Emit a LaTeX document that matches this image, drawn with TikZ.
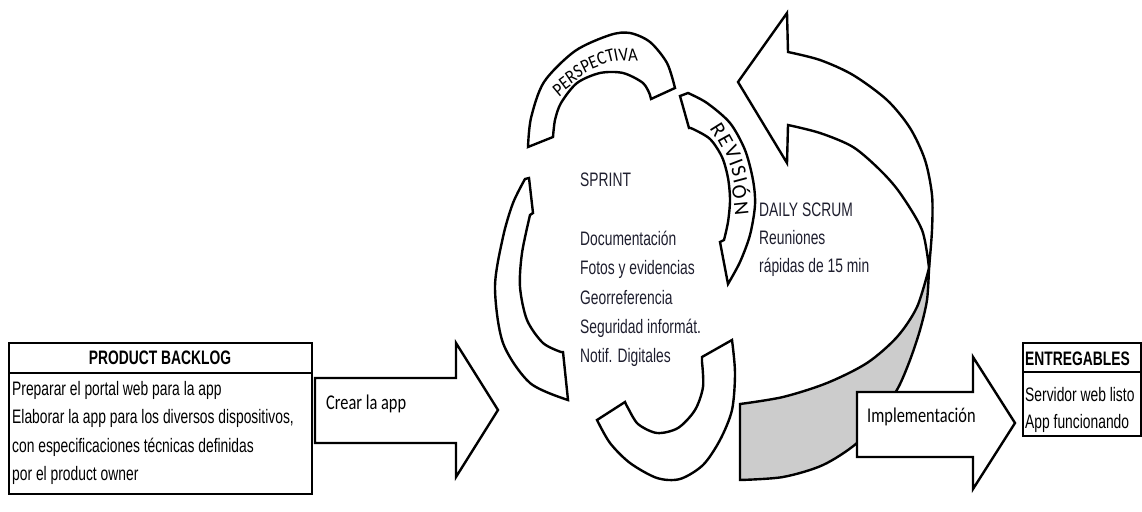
\documentclass[tikz,border=0pt]{standalone}
\usepackage{fontspec}
\setmainfont{Liberation Sans}
\newfontfamily\narrowfont[FakeStretch=0.71]{Liberation Sans}
\newfontfamily\crfont[FakeStretch=0.78]{Carlito}
\newfontfamily\persfont[FakeStretch=0.88]{Carlito}
\newfontfamily\revfont{Carlito}
\definecolor{bandgrey}{RGB}{204,204,204}
\definecolor{sprintc}{RGB}{30,30,46}
\begin{document}
\begin{tikzpicture}[x=1pt,y=-1pt,
  outline/.style={draw=black, line width=2.4pt, fill=white},
  greyband/.style={draw=black, line width=2.4pt, fill=bandgrey},
  tbox/.style={draw=black, line width=2pt, fill=white, inner sep=0pt, anchor=north west},
  sepline/.style={draw=black, line width=1.6pt},
  hdr/.style={font=\narrowfont\bfseries\fontsize{19.5}{22}\selectfont, inner sep=0pt},
  rowtxt/.style={font=\narrowfont\fontsize{19.5}{22}\selectfont, anchor=base west, inner sep=0pt},
  sprtxt/.style={font=\narrowfont\fontsize{19.5}{22}\selectfont, anchor=base west, inner sep=0pt, text=sprintc},
  arrowtxt/.style={font=\crfont\fontsize{21}{24}\selectfont, anchor=base west, inner sep=0pt},
  perstxt/.style={font=\persfont\fontsize{19}{22}\selectfont, inner sep=0pt, anchor=center},
  revtxt/.style={font=\revfont\fontsize{21}{24}\selectfont, inner sep=0pt, anchor=center}]
\useasboundingbox (0,0) rectangle (1142,511);

% ---------- PRODUCT BACKLOG ----------
\node[tbox, minimum width=303pt, minimum height=151pt] (backlog) at (8,342) {};
\draw[sepline] (8,373) -- (311,373);
\node[hdr, anchor=base] (bhead) at (160,364) {PRODUCT BACKLOG};
\node[rowtxt] (b1) at (12,395) {Preparar el portal web para la app};
\node[rowtxt] (b2) at (12,423.5) {Elaborar la app para los diversos dispositivos,};
\node[rowtxt] (b3) at (12,452) {con especificaciones técnicas definidas};
\node[rowtxt] (b4) at (12,480) {por el product owner};

% ---------- Crear la app arrow ----------
\draw[outline] (315,378) -- (456,378) -- (456,343) -- (498,410) -- (456,477) -- (456,443) -- (315,443) -- cycle;
\node[arrowtxt] (crear) at (326,409) {Crear la app};

% ---------- cycle segments ----------
% left
\draw[outline] (525,179) -- (529,178) -- (533,213) -- (530,215)
  -- plot[smooth] coordinates {(530,215) (522,253) (520,287) (527,320) (543,343) (561,352)}
  -- (563,352) -- (568,400)
  -- plot[smooth] coordinates {(568,400) (530,383) (503,343) (495,287) (503,237) (513,203) (525,179)}
  -- cycle;
% top (perspectiva)
\draw[outline] (528,147)
  -- plot[smooth] coordinates {(528,147) (531,118) (544,82) (575,51) (610,35) (630,33) (650,42) (667,63) (675,88)}
  -- (651,99) -- (650,95)
  -- plot[smooth] coordinates {(650,95) (643,83) (623,73) (600,73) (577,83) (561,103) (555,120) (553,137)}
  -- cycle;
% right (revision)
\draw[outline] (680,96) -- (688,93)
  -- plot[smooth] coordinates {(688,93) (707,103) (730,123) (745,150) (753,180) (755,205) (750,235) (740,262) (728,284)}
  -- (720,242) -- (724,240)
  -- plot[smooth] coordinates {(724,240) (728,222) (730,200) (728,178) (722,157) (710,139) (693,129) (689,128)}
  -- cycle;
% bottom
\draw[outline] (597,420)
  -- plot[smooth] coordinates {(597,420) (610,443) (630,463) (657,478) (680,479) (703,465) (720,440) (732,410) (735,373) (732,340)}
  -- (702,357) -- (702,362)
  -- plot[smooth] coordinates {(702,362) (703,387) (695,410) (678,428) (657,433) (638,424) (628,408) (625,402)}
  -- cycle;

% curved labels
\foreach \ch/\px/\py/\rt [count=\i] in {P/558.5/90/40, E/564.5/83/37, R/571/76.5/34, S/578/71/30, P/585.5/66/26, E/593/62/22, C/601.5/58.5/18, T/610/56/14, I/616/55/11, V/623.5/54.5/7, A/633/55/3}
  \node[perstxt, rotate=\rt] (pers\i) at (\px,\py) {\ch};
\foreach \ch/\px/\py/\rt [count=\i] in {R/718/130/-58, E/725.5/140.7/-61, V/732.5/152.4/-65, I/736/162.7/-69, S/738.8/171.5/-72, I/740.4/180.5/-75, Ó/741.3/192/-79, N/741.3/208.3/-84}
  \node[revtxt, rotate=\rt] (rev\i) at (\px,\py) {\ch};

% ---------- sprint texts ----------
\node[sprtxt] (sprint) at (580,186) {SPRINT};
\node[sprtxt] (s1) at (580,245) {Documentación};
\node[sprtxt] (s2) at (580,274) {Fotos y evidencias};
\node[sprtxt] (s3) at (580,304) {Georreferencia};
\node[sprtxt] (s4) at (580,333) {Seguridad informát.};
\node[sprtxt] (s5) at (580,362) {Notif. Digitales};

% ---------- big curved arrow ----------
\draw[outline] (787,13) -- (788,52)
  -- plot[smooth] coordinates {(788,52) (820,60) (853,75) (887,100) (910,128) (925,160) (932,195) (932,230) (929,268)}
  -- plot[smooth] coordinates {(929,268) (922,230) (900,193) (880,170) (853,147) (820,133) (788,125)}
  -- (787,163) -- (738,82) -- cycle;
\draw[greyband] (929,268)
  -- plot[smooth] coordinates {(929,268) (927,300) (920,330) (910,360) (898,388) (880,415) (857,443) (823,465) (783,477) (740,480)}
  -- (740,404)
  -- plot[smooth] coordinates {(740,404) (783,397) (827,383) (867,363) (897,337) (917,307) (929,268)}
  -- cycle;

\node[sprtxt] (daily) at (759,216) {DAILY SCRUM};
\node[sprtxt] (d1) at (759,244) {Reuniones};
\node[sprtxt] (d2) at (759,272) {rápidas de 15 min};

% ---------- Implementacion arrow ----------
\draw[outline] (857,392) -- (973,392) -- (973,357) -- (1015,423) -- (973,489) -- (973,457) -- (857,457) -- cycle;
\node[arrowtxt] (impl) at (867,422) {Implementación};

% ---------- ENTREGABLES ----------
\node[tbox, minimum width=118pt, minimum height=93pt] (entreg) at (1022,342) {};
\draw[sepline] (1022,372) -- (1140,372);
\node[hdr, anchor=base west] (ehead) at (1025,365) {ENTREGABLES};
\node[rowtxt] (e1) at (1025,401) {Servidor web listo};
\node[rowtxt] (e2) at (1025,428) {App funcionando};
\end{tikzpicture}
\end{document}
